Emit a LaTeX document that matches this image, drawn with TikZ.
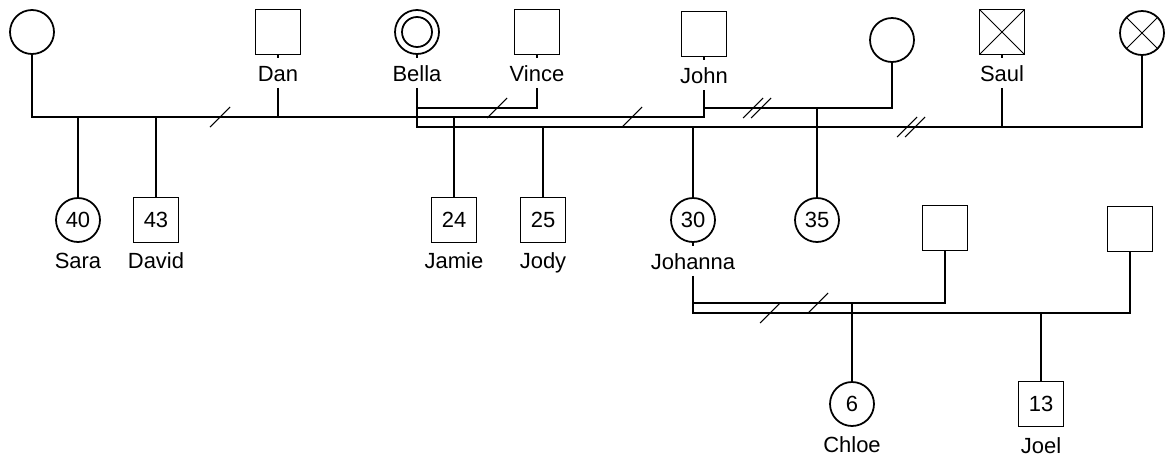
\documentclass[tikz,border=0pt]{standalone}
\usepackage{fontspec}
\setmainfont{Liberation Sans}
\usetikzlibrary{positioning,calc}

\tikzset{
    male/.style={draw, rectangle, fill=white, minimum size=0.9cm, inner sep=0pt},
    female/.style={draw, circle, fill=white, minimum size=0.88cm, inner sep=0pt},
    tag/.style={fill=white, inner sep=0pt, text height=13pt, text depth=3pt},
    crossed/.style={path picture={
        \draw[line width=0.5pt] (path picture bounding box.north west) -- (path picture bounding box.south east)
            (path picture bounding box.north east) -- (path picture bounding box.south west);}},
    ringed/.style={path picture={
        \draw (path picture bounding box.center) circle (0.3cm);}},
    cut/.style={line width=0.6pt},
}

\begin{document}
\begin{tikzpicture}[x=0.02cm, y=-0.02cm, line width=1pt,
        every node/.style={font=\fontsize{12.5}{15}\selectfont}]
    \fill[white] (0,0) rectangle (1169,460);
    \useasboundingbox (0,0) rectangle (1169,460);

    % first generation
    \node[female] (c1) at (32,32) {};
    \node[male] (dan) at (278,32) {};
    \node[female, ringed] (bella) at (417,32) {};
    \node[male] (vince) at (537,32) {};
    \node[male] (john) at (704,34) {};
    \node[female] (jwife) at (892,40) {};
    \node[male, crossed] (saul) at (1002,32) {};
    \node[female, crossed] (sauls) at (1142,33) {};

    \node[tag] (danl) at (278,73) {Dan};
    \node[tag] (bellal) at (417,73) {Bella};
    \node[tag] (vincel) at (537,73) {Vince};
    \node[tag] (johnl) at (704,75) {John};
    \node[tag] (saull) at (1002,73) {Saul};

    % children
    \node[female] (sara) at (78,220) {40};
    \node[male] (david) at (156,220) {43};
    \node[male] (jamie) at (454,220) {24};
    \node[male] (jody) at (543,220) {25};
    \node[female] (johanna) at (693,220) {30};
    \node[female] (n35) at (817,220) {35};
    \node[male] (p1) at (945,228) {};
    \node[male] (p2) at (1130,229) {};

    \node[tag] (saral) at (78,260) {Sara};
    \node[tag] (davidl) at (156,260) {David};
    \node[tag] (jamiel) at (454,260) {Jamie};
    \node[tag] (jodyl) at (543,260) {Jody};
    \node[tag] (johannal) at (693,261) {Johanna};

    % grandchildren
    \node[female] (chloe) at (852,404) {6};
    \node[male] (joel) at (1041,404) {13};
    \node[tag] (chloel) at (852,444) {Chloe};
    \node[tag] (joell) at (1041,445) {Joel};

    % partnership lines
    \coordinate (uj) at (704,117);
    \coordinate (w1) at (704,108);
    \coordinate (b1) at (417,108);
    \coordinate (b2) at (417,127);
    \coordinate (k1) at (693,303);
    \coordinate (k2) at (693,313);

    \draw (dan) -- (danl);
    \draw (bella) -- (bellal);
    \draw (vince) -- (vincel);
    \draw (john) -- (johnl);
    \draw (saul) -- (saull);
    \draw (johanna) -- (johannal);

    \draw (c1) |- (uj) -- (johnl);
    \draw (danl) -- (danl |- uj);
    \draw (w1) -| (jwife);
    \draw (bellal) -- (b2) -| (sauls);
    \draw (b1) -| (vincel);
    \draw (saull) -- (saull |- b2);
    \draw (johannal) -- (k2) -| (p2);
    \draw (k1) -| (p1);

    % descent lines
    \draw (sara) -- (sara |- uj);
    \draw (david) -- (david |- uj);
    \draw (jamie) -- (jamie |- uj);
    \draw (jody) -- (jody |- b2);
    \draw (johanna) -- (johanna |- b2);
    \draw (n35) -- (n35 |- w1);
    \draw (chloe) -- (chloe |- k1);
    \draw (joel) -- (joel |- k2);

    % separation marks
    \foreach \p in {(220,117),(497,108),(632,117),(770,313),(818,303)} {
        \draw[cut] \p ++(-10,10) -- ++(20,-20);
    }
    \foreach \p in {(757,108),(911,127)} {
        \draw[cut] \p ++(-14,10) -- ++(20,-20) \p ++(-6,10) -- ++(20,-20);
    }
\end{tikzpicture}
\end{document}
